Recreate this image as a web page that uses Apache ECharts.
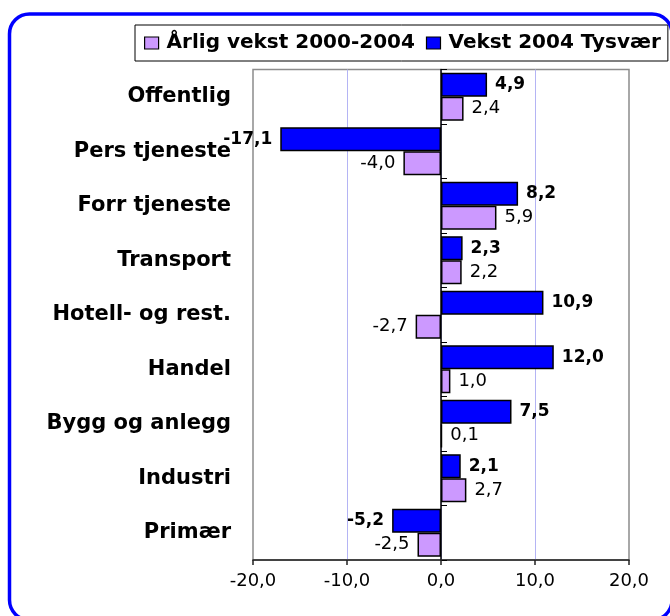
<!DOCTYPE html>
<html>
<head>
<meta charset="utf-8">
<script src="https://cdn.jsdelivr.net/npm/echarts@6/dist/echarts.min.js"></script>
<style>
html,body{margin:0;padding:0;background:#fff;}
#c{width:670px;height:616px;}
</style>
</head>
<body>
<div id="c"></div>
<script>
const categories = ['Offentlig', 'Pers tjeneste', 'Forr tjeneste', 'Transport', 'Hotell- og rest.', 'Handel', 'Bygg og anlegg', 'Industri', 'Primær'];
const vekst2004 = [4.9, -17.1, 8.2, 2.3, 10.9, 12.0, 7.5, 2.1, -5.2];
const arligVekst = [2.4, -4.0, 5.9, 2.2, -2.7, 1.0, 0.1, 2.7, -2.5];
const seriesNames = ['Vekst 2004 Tysvær', 'Årlig vekst 2000-2004'];
const legendOrder = ['Årlig vekst 2000-2004', 'Vekst 2004 Tysvær'];
const xMin = -20, xMax = 20, xStep = 10;

const FONT = 'DejaVu Sans';
const fmt = v => Number(v).toFixed(1).replace('.', ',');

function mkData(arr) {
  return arr.map(v => ({ value: v, label: { position: v < 0 ? 'left' : 'right' } }));
}

const chart = echarts.init(document.getElementById('c'), null, { renderer: 'canvas' });
chart.setOption({
  backgroundColor: '#fff',
  animation: false,
  graphic: [{
    type: 'rect',
    shape: { x: 9.5, y: 14, width: 662.5, height: 606, r: 20 },
    style: { fill: 'none', stroke: '#0000FF', lineWidth: 3.5 },
    z: 100
  }],
  legend: {
    data: legendOrder,
    left: 135, top: 25, width: 620,
    orient: 'horizontal',
    borderColor: '#000', borderWidth: 1,
    padding: [8, 7, 8, 9],
    itemWidth: 14, itemHeight: 12, itemGap: 11,
    icon: 'rect',
    itemStyle: { borderColor: '#000', borderWidth: 1.2 },
    textStyle: { fontFamily: FONT, fontSize: 20, fontWeight: 'bold', color: '#000', padding: [0, 0, 0, 3] }
  },
  grid: {
    left: 253, right: 41, top: 69.5, bottom: 56,
    show: true, borderColor: '#8c8c8c', borderWidth: 1.5, backgroundColor: '#fff'
  },
  xAxis: {
    type: 'value', min: xMin, max: xMax, interval: xStep,
    axisLine: { show: true, onZero: false, lineStyle: { color: '#222', width: 1.5 } },
    axisTick: { show: true, length: 5, lineStyle: { color: '#222', width: 1.5 } },
    axisLabel: { formatter: fmt, fontFamily: FONT, fontSize: 18, color: '#000', margin: 12 },
    splitLine: { show: true, showMinLine: false, showMaxLine: false, lineStyle: { color: '#b4b4f4', width: 1 } }
  },
  yAxis: [{
    type: 'category', data: categories, inverse: true,
    axisLine: { show: false, onZero: false },
    axisTick: { show: false },
    axisLabel: { fontFamily: FONT, fontSize: 21, fontWeight: 'bold', color: '#000', margin: 22 },
    splitLine: { show: false }
  }, {
    type: 'category', data: categories, inverse: true,
    axisLine: { show: true, onZero: true, lineStyle: { color: '#000', width: 1.5 } },
    axisTick: { show: true, length: 6, inside: false, lineStyle: { color: '#000', width: 1 } },
    axisLabel: { show: false },
    splitLine: { show: false }
  }],
  series: [{
    name: seriesNames[0], type: 'bar', yAxisIndex: 0,
    data: mkData(vekst2004),
    barGap: '0%', barCategoryGap: '11.5%',
    itemStyle: { color: '#0000FF', borderColor: '#000', borderWidth: 1.5 },
    label: { show: true, formatter: p => fmt(p.value), fontFamily: FONT, fontSize: 17, fontWeight: 'bold', color: '#000', distance: 8 }
  }, {
    name: seriesNames[1], type: 'bar', yAxisIndex: 0,
    data: mkData(arligVekst),
    barGap: '0%', barCategoryGap: '11.5%',
    itemStyle: { color: '#CC99FF', borderColor: '#000', borderWidth: 1.5 },
    label: { show: true, formatter: p => fmt(p.value), fontFamily: FONT, fontSize: 18, color: '#000', distance: 8 }
  }]
});
</script>
</body>
</html>
